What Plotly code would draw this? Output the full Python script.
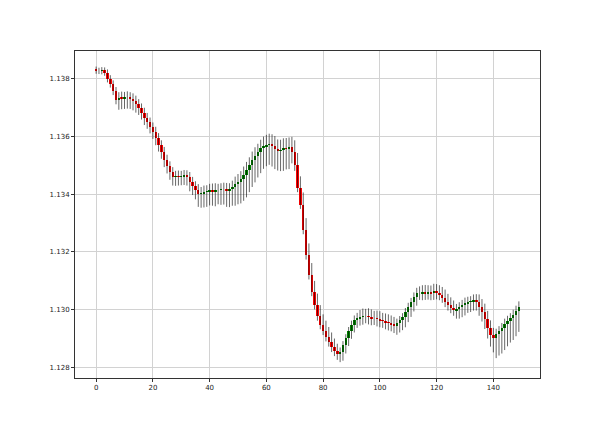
import plotly.graph_objects as go

index = list(range(150))

close = [
    1.13828, 1.13828, 1.13831, 1.13821, 1.13800, 1.13783, 1.13758, 1.13727, 1.13734, 1.13731,
    1.13734, 1.13734, 1.13731, 1.13724, 1.13713, 1.13699, 1.13682, 1.13665, 1.13651, 1.13633,
    1.13616, 1.13595, 1.13571, 1.13547, 1.13519, 1.13498, 1.13477, 1.13460, 1.13463, 1.13460,
    1.13463, 1.13467, 1.13460, 1.13442, 1.13428, 1.13415, 1.13401, 1.13404, 1.13408, 1.13411,
    1.13415, 1.13411, 1.13415, 1.13415, 1.13418, 1.13418, 1.13411, 1.13418, 1.13425, 1.13435,
    1.13442, 1.13453, 1.13467, 1.13484, 1.13501, 1.13519, 1.13533, 1.13547, 1.13560, 1.13567,
    1.13571, 1.13574, 1.13567, 1.13557, 1.13550, 1.13553, 1.13560, 1.13557, 1.13564, 1.13547,
    1.13501, 1.13422, 1.13363, 1.13276, 1.13189, 1.13119, 1.13060, 1.13015, 1.12977, 1.12946,
    1.12925, 1.12904, 1.12887, 1.12869, 1.12856, 1.12845, 1.12852, 1.12876, 1.12901, 1.12925,
    1.12946, 1.12963, 1.12970, 1.12974, 1.12977, 1.12977, 1.12974, 1.12970, 1.12970, 1.12967,
    1.12963, 1.12960, 1.12956, 1.12953, 1.12949, 1.12942, 1.12953, 1.12963, 1.12974, 1.12991,
    1.13008, 1.13026, 1.13043, 1.13057, 1.13057, 1.13060, 1.13057, 1.13060, 1.13057, 1.13064,
    1.13057, 1.13050, 1.13040, 1.13026, 1.13015, 1.13005, 1.12998, 1.13001, 1.13008, 1.13015,
    1.13022, 1.13026, 1.13029, 1.13033, 1.13026, 1.13008, 1.12991, 1.12967, 1.12935, 1.12911,
    1.12901, 1.12915, 1.12925, 1.12935, 1.12949, 1.12960, 1.12970, 1.12981, 1.12994, 1.13008,
]

first_open = 1.13833

wick_up = [
    0.00010, 0.00011, 0.00010, 0.00009,
    0.00012, 0.00013, 0.00012, 0.00014,
    0.00020, 0.00022, 0.00021, 0.00023, 0.00020, 0.00019, 0.00018,
    0.00017, 0.00016, 0.00018, 0.00017, 0.00015, 0.00016, 0.00018, 0.00017, 0.00016, 0.00017, 0.00018, 0.00016,
    0.00017, 0.00018, 0.00019, 0.00018, 0.00017, 0.00016, 0.00017, 0.00018, 0.00017,
    0.00020, 0.00021, 0.00022, 0.00020, 0.00021, 0.00022, 0.00023, 0.00021, 0.00020, 0.00022, 0.00021, 0.00020, 0.00022,
    0.00026, 0.00028, 0.00027, 0.00029, 0.00028, 0.00027, 0.00029, 0.00030, 0.00028, 0.00029,
    0.00033, 0.00035, 0.00036, 0.00034, 0.00035, 0.00033, 0.00036, 0.00034, 0.00035, 0.00033,
    0.00035, 0.00040, 0.00042, 0.00040, 0.00043, 0.00041, 0.00040, 0.00042, 0.00039, 0.00040, 0.00038, 0.00037, 0.00036, 0.00035, 0.00033, 0.00030, 0.00025,
    0.00016, 0.00014, 0.00013, 0.00014, 0.00015, 0.00016, 0.00018,
    0.00024, 0.00026, 0.00025, 0.00027, 0.00026, 0.00025, 0.00026, 0.00027, 0.00025, 0.00026, 0.00027, 0.00026, 0.00025,
    0.00015, 0.00014, 0.00013, 0.00014, 0.00015, 0.00014, 0.00016, 0.00018,
    0.00023, 0.00024, 0.00025, 0.00024, 0.00023, 0.00025, 0.00024,
    0.00027, 0.00028, 0.00029, 0.00028, 0.00027, 0.00026,
    0.00018, 0.00017, 0.00018, 0.00019, 0.00018, 0.00017, 0.00019, 0.00020,
    0.00026, 0.00028, 0.00029, 0.00028, 0.00027, 0.00025,
    0.00018, 0.00017, 0.00018, 0.00019, 0.00018, 0.00017, 0.00018, 0.00019, 0.00020,
]

wick_dn = [
    0.00010, 0.00011, 0.00012, 0.00010,
    0.00012, 0.00013, 0.00014, 0.00015,
    0.00034, 0.00036, 0.00035, 0.00037, 0.00035, 0.00033, 0.00030,
    0.00024, 0.00023, 0.00025, 0.00024, 0.00022, 0.00024, 0.00025, 0.00023, 0.00024, 0.00025, 0.00026, 0.00027,
    0.00030, 0.00031, 0.00030, 0.00029, 0.00031, 0.00030, 0.00032, 0.00031, 0.00033,
    0.00045, 0.00048, 0.00050, 0.00052, 0.00050, 0.00051, 0.00053, 0.00050, 0.00052, 0.00054, 0.00055, 0.00056, 0.00058,
    0.00065, 0.00070, 0.00074, 0.00076, 0.00078, 0.00077, 0.00076, 0.00078, 0.00075, 0.00074,
    0.00072, 0.00070, 0.00069, 0.00071, 0.00070, 0.00068, 0.00070, 0.00072, 0.00071, 0.00070,
    0.00040, 0.00020, 0.00015, 0.00014, 0.00015, 0.00016, 0.00015, 0.00014, 0.00015, 0.00016, 0.00015, 0.00014, 0.00015, 0.00016, 0.00017, 0.00018, 0.00020,
    0.00028, 0.00030, 0.00029, 0.00028, 0.00027, 0.00026, 0.00027,
    0.00026, 0.00027, 0.00025, 0.00026, 0.00025, 0.00024, 0.00026, 0.00025, 0.00024, 0.00025, 0.00026, 0.00025, 0.00024,
    0.00030, 0.00033, 0.00035, 0.00036, 0.00035, 0.00034, 0.00033, 0.00030,
    0.00024, 0.00025, 0.00024, 0.00023, 0.00025, 0.00024, 0.00022,
    0.00018, 0.00017, 0.00018, 0.00019, 0.00018, 0.00020,
    0.00030, 0.00033, 0.00035, 0.00036, 0.00034, 0.00035, 0.00033, 0.00030,
    0.00030, 0.00033, 0.00035, 0.00036, 0.00040, 0.00050,
    0.00070, 0.00075, 0.00078, 0.00076, 0.00077, 0.00075, 0.00076, 0.00074, 0.00072,
]

x_ticks = [0, 20, 40, 60, 80, 100, 120, 140]
y_ticks = [1.128, 1.130, 1.132, 1.134, 1.136, 1.138]

open_ = [first_open] + close[:-1]
high = [max(o, c) + u for o, c, u in zip(open_, close, wick_up)]
low = [min(o, c) - d for o, c, d in zip(open_, close, wick_dn)]

# wicks
wx, wy = [], []
for i, h, l in zip(index, high, low):
    wx += [i, i, None]
    wy += [l, h, None]

body_base = [min(o, c) for o, c in zip(open_, close)]
body_len = [abs(c - o) for o, c in zip(open_, close)]
body_col = ["#008000" if c >= o else "#ff0000" for o, c in zip(open_, close)]

fig = go.Figure()
fig.add_trace(go.Scatter(x=wx, y=wy, mode="lines",
                         line=dict(color="rgba(0,0,0,0.6)", width=1),
                         hoverinfo="skip", showlegend=False))
fig.add_trace(go.Bar(x=index, y=body_len, base=body_base, width=0.85,
                     marker=dict(color=body_col, line=dict(width=0)),
                     showlegend=False))

axis_common = dict(
    showgrid=True, gridcolor="#d2d2d2", gridwidth=1,
    showline=True, linecolor="#333333", linewidth=1, mirror=True,
    ticks="outside", ticklen=3, tickcolor="#333333", tickwidth=1,
    zeroline=False,
    tickfont=dict(family="DejaVu Sans", size=7, color="#222222"),
)

fig.update_layout(
    width=600, height=425,
    margin=dict(l=67, r=68, t=43, b=55),
    paper_bgcolor="white", plot_bgcolor="white",
    bargap=0,
    xaxis=dict(range=[-7.45, 156.45], tickvals=x_ticks, **axis_common),
    yaxis=dict(range=[1.12762, 1.13897], tickvals=y_ticks, tickformat=".3f", **axis_common),
)

fig.write_html("out.html")
